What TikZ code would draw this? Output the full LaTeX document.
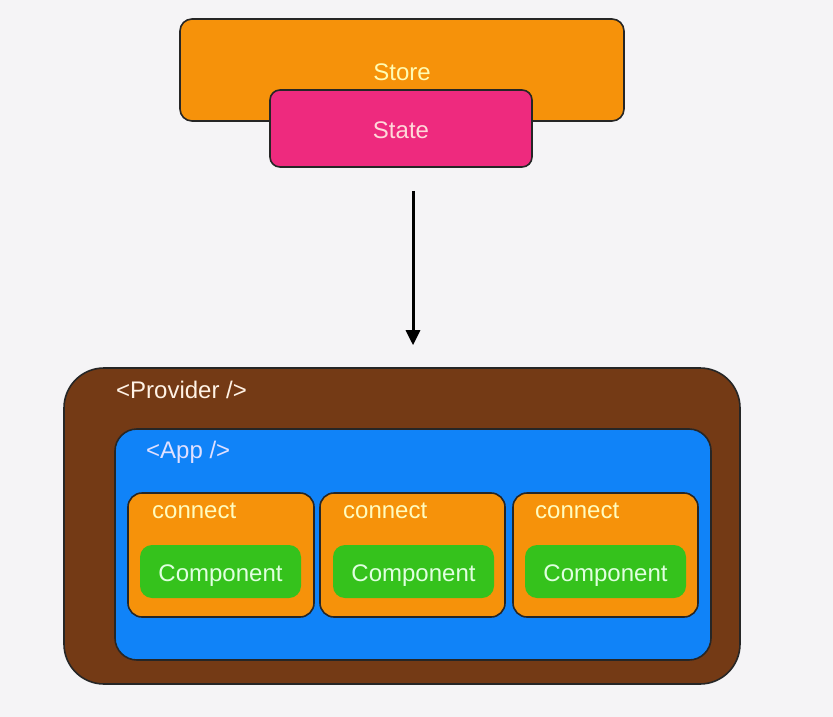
\documentclass[tikz,border=0pt]{standalone}
\usepackage{fontspec}
\setmainfont{Liberation Sans}
\usetikzlibrary{arrows.meta}

\definecolor{storeorange}{HTML}{F6920A}
\definecolor{statepink}{HTML}{EE2A7E}
\definecolor{providerbrown}{HTML}{743A15}
\definecolor{appblue}{HTML}{1083F8}
\definecolor{compgreen}{HTML}{35C21C}
\definecolor{bggray}{HTML}{F5F4F6}

\tikzset{
  box/.style={draw=black!85, line width=1.6pt, inner sep=0pt},
  lbl/.style={font=\fontsize{24}{28}\selectfont, inner sep=0pt, anchor=west},
  lowtext/.style={text height=20pt, text depth=0pt}
}

\begin{document}
\begin{tikzpicture}[x=1pt,y=-1pt]
  \fill[bggray] (0,0) rectangle (833,717);
  \useasboundingbox (0,0) rectangle (833,717);

  % store with its state
  \node[box, fill=storeorange, rounded corners=12pt, minimum width=444pt, minimum height=102pt] (store) at (402,70) {};
  \node[lbl, anchor=center, text=yellow!30!white] (store label) at (402,72) {Store};
  \node[box, lowtext, fill=statepink, rounded corners=10pt, minimum width=262pt, minimum height=77pt, font=\fontsize{24}{28}\selectfont, text=pink!60!white] (state) at (401,128.5) {State};

  % provider and app
  \node[box, fill=providerbrown, rounded corners=40pt, minimum width=676pt, minimum height=316pt] (provider) at (402,526) {};
  \node[lbl, text=orange!10!white] (provider label) at (116,390) {<Provider />};
  \node[box, fill=appblue, rounded corners=22pt, minimum width=596pt, minimum height=231pt] (app) at (413,544.5) {};
  \node[lbl, text=blue!12!white] (app label) at (146,452) {<App />};

  % connect boxes
  \node[box, fill=storeorange, rounded corners=14pt, minimum width=186pt, minimum height=124pt] (connect1) at (221,555) {};
  \node[box, fill=storeorange, rounded corners=14pt, minimum width=185pt, minimum height=124pt] (connect2) at (412.5,555) {};
  \node[box, fill=storeorange, rounded corners=14pt, minimum width=185pt, minimum height=124pt] (connect3) at (605.5,555) {};
  \node[lbl, text=yellow!25!white] (connect1 label) at (152,511) {connect};
  \node[lbl, text=yellow!25!white] (connect2 label) at (343,511) {connect};
  \node[lbl, text=yellow!25!white] (connect3 label) at (535,511) {connect};

  % components
  \foreach \i/\x in {1/220.5, 2/413.5, 3/605.5}
    \node[lowtext, fill=compgreen, rounded corners=12pt, minimum width=161pt, minimum height=53pt, inner sep=0pt,
          font=\fontsize{24}{28}\selectfont, text=green!12!white] (comp\i) at (\x,571.5) {Component};

  \draw[line width=3pt, -{Triangle[width=14pt,length=15pt]}]
    ([yshift=-23pt]state.south -| app.north) -- ([yshift=22pt]provider.north -| app.north);
\end{tikzpicture}
\end{document}
